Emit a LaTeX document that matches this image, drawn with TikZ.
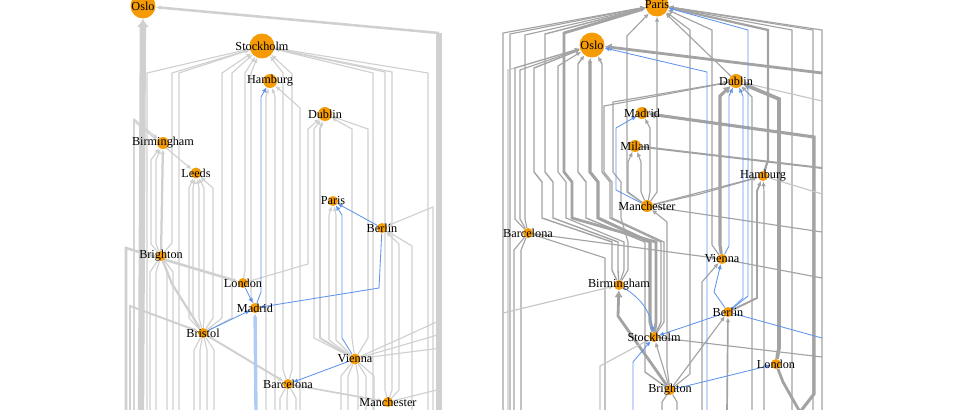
\documentclass[tikz,border=0pt]{standalone}
\usepackage{fontspec}
\setmainfont{Liberation Serif}
\usetikzlibrary{arrows.meta,backgrounds}

\definecolor{cityorange}{RGB}{245,155,5}
\definecolor{lgrey}{RGB}{208,208,208}
\definecolor{rgrey}{RGB}{163,163,163}
\definecolor{rpale}{RGB}{198,198,198}
\definecolor{linkblue}{RGB}{96,148,236}
\definecolor{paleblue}{RGB}{176,204,246}

% city marker with its name written over it
\newcommand{\city}[4]{%
  \node[city=#3] (#1) at (#2) {};
  \node[citylabel] (#1-name) at (#1) {#4};
}

\begin{document}
\begin{tikzpicture}[x=0.025cm,y=-0.025cm]

% --- STYLES ---
\tikzset{
  city/.style={circle, fill=cityorange, inner sep=0pt, minimum size=#1*0.71pt},
  citylabel/.style={font=\fontsize{8.7}{10}\selectfont, inner sep=0pt},
  ledge/.style={draw=lgrey, line width=0.8pt, -{Latex[length=3.5pt,width=3.2pt]}},
  redge/.style={draw=rgrey, line width=0.8pt, -{Latex[length=3.5pt,width=3.2pt]}},
  pale/.style={draw=rpale},
  bluelink/.style={draw=linkblue, line width=0.6pt, -{Latex[length=3.5pt,width=3.2pt]}},
  heavy/.style={line width=#1, -{Latex[length=5pt,width=6pt]}},
}

\useasboundingbox (0,0) rectangle (978,409);
\begin{scope}[on background layer]
  \fill[white] (0,0) rectangle (978,409);
\end{scope}

% ================= LEFT LAYOUT: CITIES =================
\city{lOslo}{143,6}{25}{Oslo}
\city{lStockholm}{262,46}{25}{Stockholm}
\city{lHamburg}{270,81}{14}{Hamburg}
\city{lDublin}{325,114}{14}{Dublin}
\city{lBirmingham}{163,143}{12}{Birmingham}
\city{lLeeds}{196,173}{11}{Leeds}
\city{lParis}{333,201}{10}{Paris}
\city{lBerlin}{382,228}{10}{Berlin}
\city{lBrighton}{161,256}{10}{Brighton}
\city{lLondon}{243,283}{10}{London}
\city{lMadrid}{255,308}{10}{Madrid}
\city{lBristol}{203,333}{10}{Bristol}
\city{lVienna}{355,359}{11}{Vienna}
\city{lBarcelona}{288,384}{10}{Barcelona}
\city{lManchester}{388,402}{10}{Manchester}

% ================= RIGHT LAYOUT: CITIES =================
\city{rParis}{657,5}{23}{Paris}
\city{rOslo}{592,45}{25}{Oslo}
\city{rDublin}{736,81}{14}{Dublin}
\city{rMadrid}{642,113}{12}{Madrid}
\city{rMilan}{635,146}{12}{Milan}
\city{rHamburg}{763,176}{10}{Hamburg}
\city{rManchester}{647,206}{12}{Manchester}
\city{rBarcelona}{528,233}{10}{Barcelona}
\city{rVienna}{722,259}{10}{Vienna}
\city{rBirmingham}{619,285}{10}{Birmingham}
\city{rBerlin}{728,312}{10}{Berlin}
\city{rStockholm}{654,337}{10}{Stockholm}
\city{rLondon}{776,364}{10}{London}
\city{rBrighton}{670,390}{10}{Brighton}

\begin{scope}[on background layer]
% ================= LEFT LAYOUT: EDGES =================
% trunks into Oslo
\coordinate (lb141) at (141,412);
\draw[ledge, heavy=4.5pt, -{Latex[length=6pt,width=9pt]}] (lb141) -- (lOslo);
\coordinate (lb439) at (439,412);
\coordinate (lcorner) at (439,33);
\draw[ledge, line width=4pt, -] (lb439) -- (lcorner);
\draw[ledge, line width=1.8pt] (lcorner) -- (lOslo);

% into Stockholm
\foreach \x in {147,179,373,428}
  {\coordinate (lb\x) at (\x,412);
   \draw[ledge] (lb\x) -- (\x,73) -- (lStockholm);}
\draw[ledge] (lBrighton) -- (172,243) -- (172,73) -- (lStockholm);
\foreach \x in {222,232}
  \draw[ledge] (lBristol) -- (\x,318) -- (\x,73) -- (lStockholm);
\draw[ledge] (lLondon) -- (245,270) -- (245,73) -- (lStockholm);
\draw[ledge] (lMadrid) -- (251,296) -- (251,73) -- (lStockholm);
\draw[ledge] (lBarcelona) -- (283,370) -- (283,73) -- (lStockholm);
\draw[ledge] (lBarcelona) -- (292,370) -- (292,74) -- (lStockholm);
\foreach \x in {385,392}
  \draw[ledge] (lManchester) -- (\x,390) -- (\x,72) -- (lStockholm);

% into Hamburg
\foreach \x in {266,275}
  {\coordinate (lb\x) at (\x,412);
   \draw[ledge] (lb\x) -- (\x,97) -- (lHamburg);}
\coordinate (lb300) at (300,412);
\draw[ledge] (lb300) -- (300,108) -- (lHamburg);

% into Dublin and Paris
\foreach \x/\w in {314/0.8,320/1.4,352/0.8,368/0.8}
  \draw[ledge, line width=\w pt] (lVienna) -- (\x,338) -- (\x,129) -- (lDublin);
\draw[ledge] (lLondon) -- (308,264) -- (308,129) -- (lDublin);
\foreach \x in {329,336}
  \draw[ledge] (lVienna) -- (\x,340) -- (\x,215) -- (lParis);

% into Berlin
\coordinate (lb433) at (433,412);
\draw[ledge] (lb433) -- (433,207) -- (lBerlin);
\draw[ledge] (lManchester) -- (399,390) -- (399,244) -- (lBerlin);
\coordinate (lb412) at (412,412);
\draw[ledge] (lb412) -- (412,246) -- (lBerlin);

% into Birmingham and Leeds
\draw[ledge, line width=1.6pt] (lBrighton) -- (lBirmingham);
\foreach \x in {151,156}
  \draw[ledge] (lBrighton) -- (\x,244) -- (\x,160) -- (lBirmingham);
\coordinate (lb134) at (134,412);
\draw[ledge] (lb134) -- (134,119) -- (lBirmingham);
\draw[ledge] (lb134) -- (134,121) -- (lLeeds);
\foreach \x in {189,193,199,204,213}
  \draw[ledge] (lBristol) -- (\x,318) -- (\x,188) -- (lLeeds);

% London, Bristol, Barcelona
\coordinate (lb126) at (126,412);
\draw[ledge, line width=1.8pt] (lb126) -- (126,248) -- (lLondon);
\coordinate (lb130) at (130,412);
\draw[ledge, line width=1.4pt] (lb130) -- (130,306) -- (lBristol);
\draw[ledge, line width=1.6pt] (lBrighton) -- (172,284) -- (lBristol);
\draw[ledge, line width=1.4pt] (lBristol) -- (lBarcelona);
\draw[ledge, line width=1.2pt] (lBarcelona) -- (lManchester);

% downward bundles (tips below the frame)
\foreach \x in {150,156,167,173}
  {\coordinate (lbb\x) at (\x,412);
   \draw[ledge, -] (lBrighton) -- (\x,272) -- (lbb\x);}
\foreach \x in {194,200,207,214}
  {\coordinate (lbb\x) at (\x,412);
   \draw[ledge, -] (lBristol) -- (\x,350) -- (lbb\x);}
\foreach \x in {341,348,358,366,374}
  {\coordinate (lbb\x) at (\x,412);
   \draw[ledge, -] (lVienna) -- (\x,376) -- (lbb\x);}
\foreach \x in {280,287,296}
  {\coordinate (lbb\x) at (\x,412);
   \draw[ledge, -] (lBarcelona) -- (\x,398) -- (lbb\x);}
\coordinate (le320) at (441,320);
\coordinate (le334) at (441,334);
\coordinate (le348) at (441,348);
\coordinate (le390) at (441,389);
\draw[ledge, -] (lVienna) -- (le320);
\draw[ledge, -] (lVienna) -- (le334);
\draw[ledge, -] (lVienna) -- (le348);
\draw[ledge, -] (lManchester) -- (le390);

% blue links
\coordinate (lb256) at (256,412);
\draw[bluelink, draw=paleblue, line width=2.4pt] (lb256) -- (lMadrid);
\draw[bluelink] (lMadrid) -- (261,292) -- (261,97) -- (lHamburg);
\draw[bluelink] (lVienna) -- (342,338) -- (342,215) -- (lParis);
\draw[bluelink] (lBerlin) -- (lParis);
\draw[bluelink] (lBerlin) -- (379,288) -- (lMadrid);
\draw[bluelink] (lLondon) -- (lMadrid);
\draw[bluelink] (lBristol) -- (lMadrid);
\draw[bluelink] (lVienna) -- (lBarcelona);

% ================= RIGHT LAYOUT: EDGES =================
% frame lines into Paris
\foreach \x/\yc in {503/33,510/34}
  {\coordinate (rb\x) at (\x,412);
   \draw[redge] (rb\x) -- (\x,\yc) -- (rParis);}
\foreach \x in {822,813,792}
  {\coordinate (rb\x) at (\x,412);
   \draw[redge] (rb\x) -- (\x,30) -- (rParis);}
\coordinate (rb508) at (508,412);
\draw[redge, pale] (rb508) -- (508,70) -- (rOslo);

% Barcelona
\foreach \x/\tgt/\yc in {515/rOslo/68,520/rOslo/70,525/rParis/35}
  \draw[redge] (rBarcelona) -- (\x,219) -- (\x,\yc) -- (\tgt);
\draw[redge] (rBarcelona) -- (rVienna);
\foreach \x in {514,521}
  {\coordinate (rbb\x) at (\x,412);
   \draw[redge, -] (rBarcelona) -- (\x,250) -- (rbb\x);}
\coordinate (rbb605) at (605,412);
\draw[redge, -] (rBarcelona) -- (605,258) -- (rbb605);
\coordinate (rw313) at (503,313);
\draw[redge, pale] (rw313) -- (rBirmingham);

% long bundle from Birmingham/Stockholm/Brighton up the left side
\foreach \src/\ys/\xb/\xa/\tgt/\yc/\w in {
    rBirmingham/270/612/542/rOslo/68/1.0,
    rBirmingham/270/618/553/rParis/34/1.0,
    rBirmingham/270/624/566/rOslo/66/0.8,
    rBrighton/372/645/586/rOslo/64/1.0,
    rStockholm/322/650/598/rOslo/62/2.2,
    rStockholm/322/656/572/rParis/33/2.0,
    rStockholm/322/661/610/rOslo/64/1.0,
    rStockholm/322/664/612/rDublin/106/0.8,
    rBirmingham/270/628/621/rDublin/102/0.8}
  \draw[redge, line width=\w pt] (\src) -- (\xb,\ys) -- (\xb,242) -- (\xa,218)
      -- (\xa,182) -- ({\xa-8},172) -- ({\xa-8},\yc) -- (\tgt);

% Manchester fan
\foreach \x/\tgt/\yc in {628/rMilan/162,641/rMilan/162,650/rMadrid/128,627/rParis/36,657/rParis/22}
  \draw[redge] (rManchester) -- (\x,192) -- (\x,\yc) -- (\tgt);
\draw[redge] (rManchester) -- (rHamburg);
\draw[redge] (rManchester) -- (700,194) -- (rHamburg);
\coordinate (re232) at (822,232);
\draw[redge, -] (rManchester) -- (re232);

% from the right side
\coordinate (re73) at (822,73);
\draw[redge, heavy=2pt] (re73) -- (rOslo);
\coordinate (rb800) at (800,412);
\draw[redge, heavy=2.2pt] (rb800) -- (814,394) -- (814,137) -- (rMadrid);
\coordinate (re168) at (822,168);
\draw[redge, line width=1.4pt] (re168) -- (rMilan);
\coordinate (re100) at (822,101);
\draw[redge, pale] (re100) -- (rDublin);
\coordinate (re192) at (822,194);
\draw[redge, pale, -] (rHamburg) -- (re192);

% into Dublin
\draw[redge, heavy=2.2pt] (rVienna) -- (720,245) -- (720,96) -- (rDublin);
\coordinate (rb752) at (752,412);
\draw[redge] (rb752) -- (752,97) -- (rDublin);
\draw[redge, heavy=2.6pt] (rLondon) -- (779,348) -- (779,99) -- (rDublin);

% into Paris from the right
\draw[redge, line width=1.6pt] (rHamburg) -- (768,160) -- (768,30) -- (rParis);
\draw[redge] (rVienna) -- (712,245) -- (712,30) -- (rParis);
\draw[redge] (rDublin) -- (rParis);
\draw[redge] (rBrighton) -- (690,374) -- (690,30) -- (rParis);

% Hamburg, Vienna, Berlin
\draw[redge, line width=1.4pt] (rBerlin) -- (757,298) -- (757,191) -- (rHamburg);
\coordinate (rb764) at (764,412);
\draw[redge] (rb764) -- (764,192) -- (rHamburg);
\coordinate (re278) at (822,278);
\draw[redge, -] (rVienna) -- (re278);
\coordinate (rb702) at (702,412);
\draw[redge] (rb702) -- (702,282) -- (rVienna);
\coordinate (rb727) at (727,412);
\draw[redge, line width=1.2pt] (rb727) -- (rBerlin);
\draw[redge] (rBrighton) -- (rBerlin);

% Stockholm, Brighton, London
\draw[redge, heavy=2pt] (rBrighton) -- (618,316) -- (rBirmingham);
\draw[redge] (rBrighton) -- (rStockholm);
\draw[redge] (rBrighton) -- (667,368) -- (667,222) -- (rManchester);
\coordinate (rb600) at (600,412);
\draw[redge, pale] (rb600) -- (600,366) -- (rStockholm);
\coordinate (re358) at (822,357);
\draw[redge, -] (rStockholm) -- (re358);
\draw[redge, heavy=2pt, -] (rLondon) -- (783,382) -- (rb800);
\foreach \x in {662,677}
  {\coordinate (rbb\x) at (\x,412);
   \draw[redge, -] (rBrighton) -- (\x,402) -- (rbb\x);}

% blue links
\coordinate (rb707) at (707,412);
\draw[bluelink] (rb707) -- (707,72) -- (rOslo);
\draw[bluelink] (rManchester) -- (616,190) -- (616,128) -- (rMadrid);
\draw[bluelink] (rVienna) -- (729,246) -- (729,96) -- (rDublin);
\draw[bluelink] (rBerlin) -- (743,298) -- (743,96) -- (rDublin);
\draw[bluelink] (rBerlin) -- (748,296) -- (748,30) -- (rParis);
\draw[bluelink] (rBerlin) -- (714,292) -- (rVienna);
\draw[bluelink] (rBerlin) -- (rStockholm);
\coordinate (re336) at (822,338);
\draw[bluelink, -] (rBerlin) -- (re336);
\draw[bluelink] (rBirmingham) to[bend left=25] (rStockholm);
\coordinate (rb633) at (633,412);
\draw[bluelink] (rb633) -- (633,362) -- (rStockholm);
\draw[bluelink] (rBrighton) -- (rLondon);
\end{scope}

\end{tikzpicture}
\end{document}
